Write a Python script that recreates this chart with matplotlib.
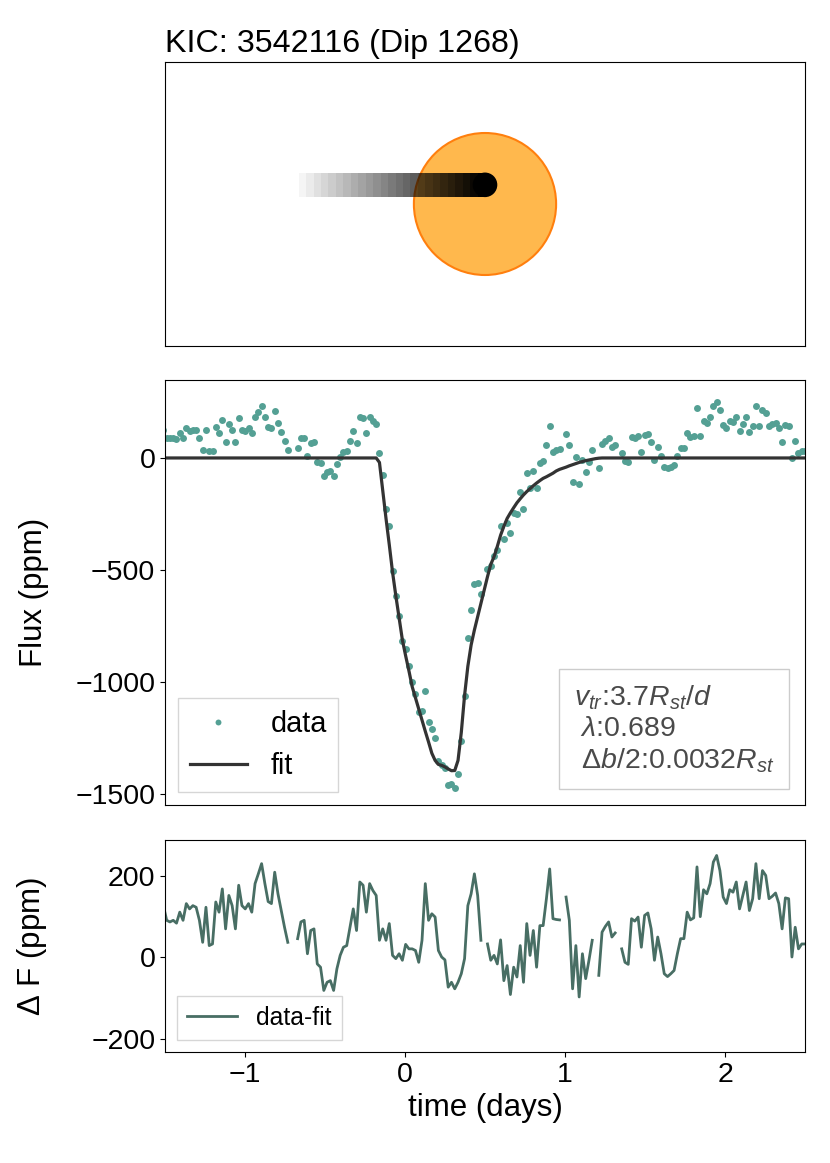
import matplotlib
matplotlib.use('Agg')
import matplotlib.pyplot as plt
from matplotlib import patches
from matplotlib.offsetbox import AnchoredText
import numpy as np

plt.rcParams['font.family'] = ['Liberation Sans', 'DejaVu Sans']
plt.rcParams['mathtext.fontset'] = 'custom'
plt.rcParams['mathtext.rm'] = 'Liberation Sans'
plt.rcParams['mathtext.it'] = 'Liberation Sans:italic'
plt.rcParams['mathtext.bf'] = 'Liberation Sans:bold'

# Kepler long cadence samples (days from dip centre)
t_start = -1.51
cadence = 0.02046

nan = np.nan
# observed flux (ppm)
flux = [127, 91, 87, 91, 84, 111, 91, 132, 119, 127,
        123, 91, 37, 123, 29, 33, 136, 111, 168, 70,
        152, 127, 70, 177, 127, 119, 132, 111, 181, 205,
        230, 181, 137, 132, 209, 156, 115, 74, 37, nan,
        nan, 46, 87, 91, 9, 66, 70, -16, -24, -81,
        -61, -57, -81, -28, 5, 25, 29, 74, 119, 66,
        185, 177, 111, 181, 164, 152, 22, -76, -228, -304,
        -505, -618, -704, -819, -851, -929, -1000, -1054, -1132, -1128,
        -1039, -1177, -1211, -1251, -1351, -1371, -1385, -1461, -1457, -1472,
        -1411, -1265, -1063, -803, -679, -563, -556, -607, nan, -497,
        -482, -436, -411, -302, -362, -290, -336, -246, -248, -153,
        -226, -67, -132, -58, -136, -23, -13, 60, 141, 27,
        35, 41, nan, 107, 56, -107, 4, -117, -7, -64,
        -16, 36, nan, -45, 62, 76, 87, 50, 60, nan,
        21, -12, -17, 95, 89, 99, 25, 103, 109, 70,
        -7, 50, 9, -40, -47, -40, -32, 9, 46, 46,
        111, 92, 97, 222, 100, 166, 156, 181, 234, 250,
        213, 148, 132, 166, 160, 185, 119, 152, 185, 115,
        144, 230, 144, 213, 201, 144, 150, 158, 132, 70,
        146, 144, 1, 74, 21, 33, 33]

# fitted model (ppm)
model = [0] * 66 + [
    -20, -146, -270, -387, -510, -615, -713, -812, -883, -950,
    -1021, -1071, -1120, -1170, -1220, -1268, -1318, -1350, -1368, -1372,
    -1379, -1388, -1396, -1395, -1350, -1225, -1060, -930, -835, -768,
    -708, -649, -590, -530, -475, -441, -395, -345, -305, -270,
    -245, -222, -200, -182, -165, -150, -137, -124, -112, -101,
    -91, -84, -76, -68, -58, -51, -46, -41, -35, -30,
    -25, -20, -16, -12, -9, -6, -3, -1] + [0] * 63

# fit parameters shown in the box
v_tr = 3.7
lam = 0.689
half_db = 0.0032

# cartoon geometry (stellar radii)
b_planet = 0.27
r_planet = 0.173
trail_len = 2.62
n_trail = 25

time = t_start + cadence * np.arange(len(flux))
flux = np.array(flux, dtype=float)
model = np.array(model, dtype=float)
resid = flux - model

c_data = '#54a094'
c_fit = '#333333'
c_res = '#486e64'

fig = plt.figure(figsize=(8.3, 11.63), dpi=100)
W, H = 830., 1163.
def px_axes(x0, y0, x1, y1):
    return fig.add_axes([x0 / W, 1 - y1 / H, (x1 - x0) / W, (y1 - y0) / H])

ax0 = px_axes(165, 62, 805, 346)
ax1 = px_axes(165, 380, 805, 805)
ax2 = px_axes(165, 840, 805, 1052)

# --- top: transit cartoon
star = patches.Circle((0, 0), 1.0, facecolor='#ffb84d', edgecolor='#ff7f0e', lw=1.5, zorder=1)
ax0.add_patch(star)
step = trail_len / n_trail
for k in range(n_trail):
    x0 = -trail_len + k * step
    a = (k + 1) / n_trail
    ax0.add_patch(patches.Rectangle((x0, b_planet - r_planet), step, 2 * r_planet,
                                    facecolor='black', edgecolor='none', alpha=a, zorder=2))
ax0.add_patch(patches.Circle((0, b_planet), r_planet, facecolor='black', edgecolor='none', zorder=3))
ax0.set_xlim(-4.5, 4.5)
ax0.set_ylim(-2, 2)
ax0.set_xticks([])
ax0.set_yticks([])
ax0.set_title('KIC: 3542116 (Dip 1268)', loc='left', fontsize=23.2, pad=7)

# --- middle: light curve
ax1.plot(time, flux, 'o', color=c_data, ms=5.0, mew=0, label='data')
ax1.plot(time, model, '-', color=c_fit, lw=2.3, label='fit')
ax1.set_xlim(-1.5, 2.5)
ax1.set_ylim(-1549, 348)
ax1.set_yticks([0, -500, -1000, -1500])
ax1.tick_params(axis='x', bottom=False, labelbottom=False)
ax1.tick_params(axis='y', labelsize=20.5)
ax1.set_ylabel('Flux (ppm)', fontsize=22.5)
ax1.yaxis.set_label_coords(-0.182, 0.5)
leg = ax1.legend(loc='lower left', fontsize=20.8, fancybox=False, markerscale=0.85,
                 edgecolor='0.8', borderaxespad=0.45)
txt = ('$v_{tr}$:%.1f$R_{st}/d$\n $\\lambda$:%.3f\n $\\Delta b/2$:%.4f$R_{st}$'
       % (v_tr, lam, half_db))
at = AnchoredText(txt, loc='lower right', frameon=True, pad=0.22, borderpad=0.85,
                  prop=dict(size=20.5, color='#4a4a4a', linespacing=1.18))
at.patch.set_boxstyle('square')
at.patch.set_edgecolor('0.8')
ax1.add_artist(at)

# --- bottom: residuals
ax2.plot(time, resid, '-', color=c_res, lw=2.0, label='data-fit')
ax2.set_xlim(-1.5, 2.5)
ax2.set_ylim(-232, 288)
ax2.set_yticks([-200, 0, 200])
ax2.set_xticks([-1, 0, 1, 2])
ax2.tick_params(labelsize=20.5)
ax2.set_ylabel('$\\Delta$ F (ppm)', fontsize=22.5)
ax2.yaxis.set_label_coords(-0.182, 0.5)
ax2.set_xlabel('time (days)', fontsize=22.5)
ax2.legend(loc='lower left', fontsize=17.8, fancybox=False, edgecolor='0.8', borderaxespad=0.5)

fig.savefig('out.png', dpi=100)
